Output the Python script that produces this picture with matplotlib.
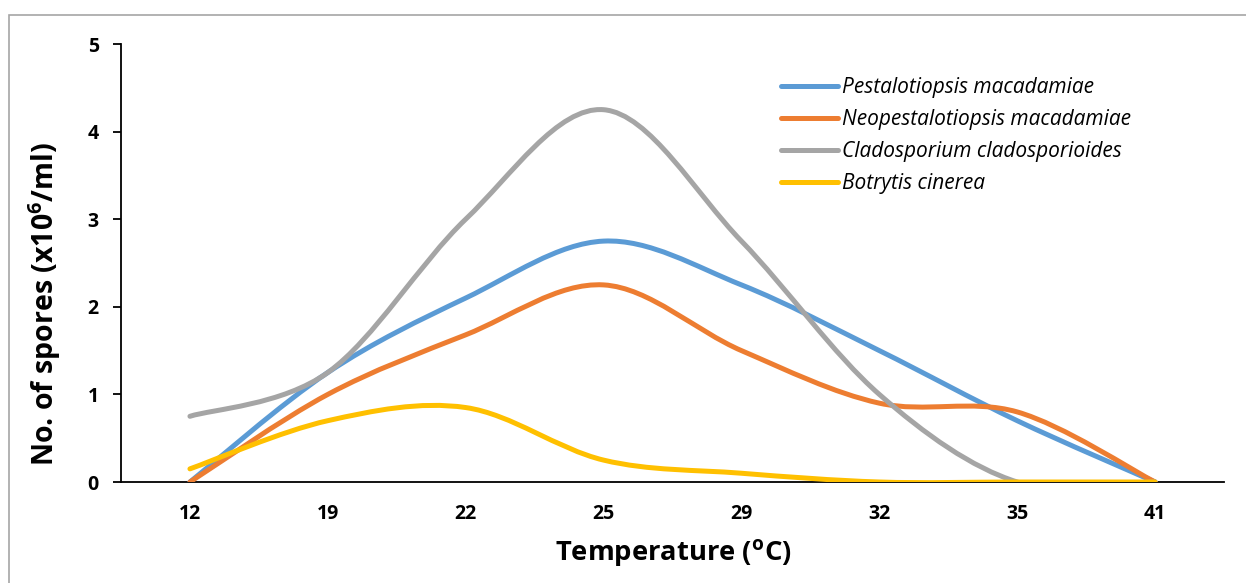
import matplotlib
matplotlib.use("Agg")
import matplotlib.pyplot as plt
from matplotlib.path import Path
from matplotlib.patches import PathPatch, Rectangle
from matplotlib.lines import Line2D

temperatures = ["12", "19", "22", "25", "29", "32", "35", "41"]
pestalotiopsis = [0.0, 1.25, 2.1, 2.75, 2.25, 1.5, 0.7, 0.0]
neopestalotiopsis = [0.0, 1.0, 1.68, 2.25, 1.5, 0.9, 0.8, 0.0]
cladosporium = [0.75, 1.25, 3.0, 4.25, 2.75, 1.0, 0.0, 0.0]
botrytis = [0.15, 0.7, 0.85, 0.25, 0.1, 0.0, 0.0, 0.0]
series_names = ["Pestalotiopsis macadamiae", "Neopestalotiopsis macadamiae",
                "Cladosporium cladosporioides", "Botrytis cinerea"]
series_colors = ["#5B9BD5", "#ED7D31", "#A5A5A5", "#FFC000"]

plt.rcParams['font.family'] = ['Open Sans', 'DejaVu Sans']
plt.rcParams['mathtext.fontset'] = 'custom'
plt.rcParams['mathtext.rm'] = 'Open Sans'
plt.rcParams['mathtext.bf'] = 'Open Sans:bold'

fig = plt.figure(figsize=(12.46, 5.83), dpi=100)
W, H = 1246, 583
ax = fig.add_axes([121 / W, 101 / H, (1224 - 121) / W, (482 - 44) / H])

# outer chart border
fig.patches.append(Rectangle((9 / W, -0.1), 1.2, (583 - 15) / H + 0.1,
                             transform=fig.transFigure, fill=False,
                             edgecolor="#A6A6A6", lw=1.2, zorder=0))


def smooth_path(xs, ys):
    pts = list(zip(xs, ys))
    n = len(pts)
    verts = [pts[0]]
    codes = [Path.MOVETO]
    for i in range(n - 1):
        p0 = pts[i - 1] if i > 0 else pts[i]
        p1 = pts[i]
        p2 = pts[i + 1]
        p3 = pts[i + 2] if i + 2 < n else pts[i + 1]
        c1 = (p1[0] + (p2[0] - p0[0]) / 6, p1[1] + (p2[1] - p0[1]) / 6)
        c2 = (p2[0] - (p3[0] - p1[0]) / 6, p2[1] - (p3[1] - p1[1]) / 6)
        verts += [c1, c2, p2]
        codes += [Path.CURVE4] * 3
    return Path(verts, codes)


xpos = list(range(len(temperatures)))
all_series = [pestalotiopsis, neopestalotiopsis, cladosporium, botrytis]
handles = []
for i, (vals, name, col) in enumerate(zip(all_series, series_names, series_colors)):
    patch = PathPatch(smooth_path(xpos, vals), facecolor="none", edgecolor=col,
                      lw=3.6, capstyle="round", joinstyle="round", zorder=3 + i)
    ax.add_patch(patch)
    handles.append(Line2D([], [], color=col, lw=3.6, solid_capstyle="round"))

ax.set_xlim(-0.5, len(temperatures) - 0.5)
ax.set_ylim(0, 5)
ax.set_xticks(xpos)
ax.set_xticklabels(temperatures)
ax.set_yticks(range(6))
for s in ["top", "right"]:
    ax.spines[s].set_visible(False)
ax.spines["left"].set_linewidth(1.3)
ax.spines["bottom"].set_linewidth(1.3)
ax.tick_params(axis="x", length=0, pad=16, labelsize=14)
ax.tick_params(axis="y", length=6, width=1.3, pad=10, labelsize=14)
for lbl in ax.get_xticklabels() + ax.get_yticklabels():
    lbl.set_fontweight("bold")

ax.set_xlabel("Temperature ($\\mathbf{^{o}}$C)", fontsize=19.7, fontweight="bold")
ax.xaxis.set_label_coords((673 - 121) / (1224 - 121), -(553 - 482) / (482 - 44))
ax.xaxis.label.set_va("center")
ax.set_ylabel("No. of spores (x10$\\mathbf{^{6}}$/ml)", fontsize=20.5, fontweight="bold")
ax.yaxis.set_label_coords(-(121 - 45) / (1224 - 121), 1 - (304 - 44) / (482 - 44))
ax.yaxis.label.set_va("center")

leg = ax.legend(handles, series_names, loc="upper left",
                bbox_to_anchor=((773 - 121) / (1224 - 121), 1 - (69 - 44) / (482 - 44)),
                frameon=False, handlelength=2.7, handletextpad=0.2,
                labelspacing=0.53, borderaxespad=0,
                prop={"style": "italic", "size": 15})

fig.savefig("out.png", dpi=100)
